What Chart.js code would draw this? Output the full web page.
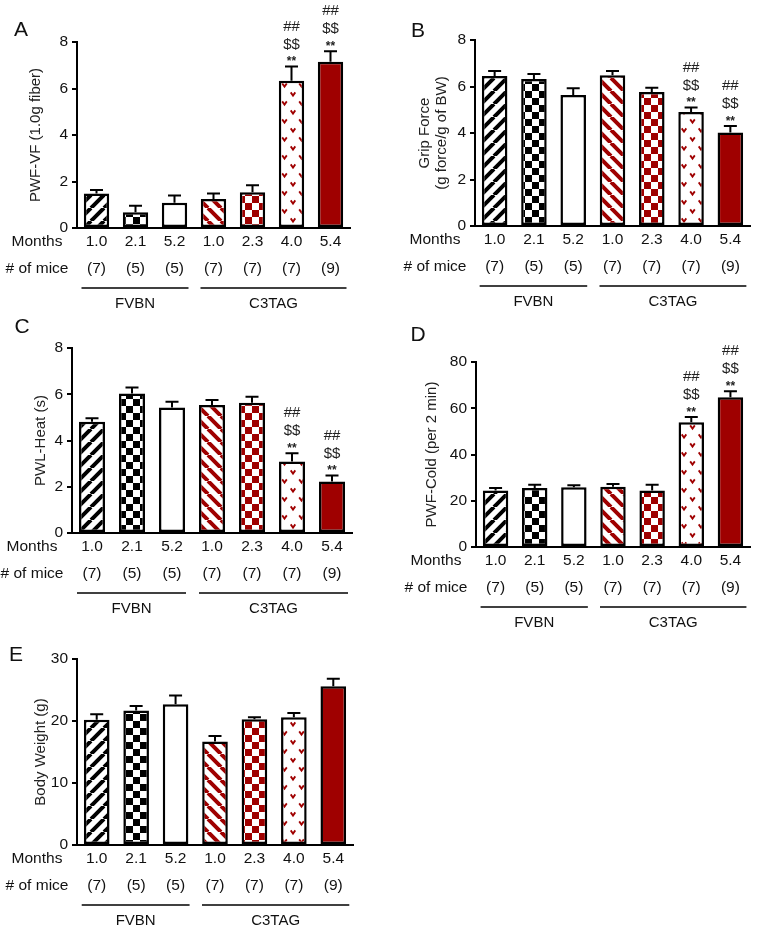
<!DOCTYPE html>
<html>
<head>
<meta charset="utf-8">
<script src="https://cdn.jsdelivr.net/npm/chart.js@4"></script>
<style>
  body { margin: 0; background: #fff; }
  #wrap { position: relative; width: 758px; height: 931px; }
  #wrap canvas { position: absolute; left: 0; top: 0; }
</style>
</head>
<body>
<div id="wrap"></div>
<script>
const groups = ['FVBN', 'C3TAG'];
const months = ['1.0', '2.1', '5.2', '1.0', '2.3', '4.0', '5.4'];
const mice = ['(7)', '(5)', '(5)', '(7)', '(7)', '(7)', '(9)'];
const sigMarks = ['##', '$$', '**'];

const pwfVf = [1.48, 0.68, 1.09, 1.25, 1.54, 6.33, 7.15];
const pwfVfErr = [0.15, 0.28, 0.31, 0.23, 0.30, 0.62, 0.45];
const gripForce = [6.45, 6.32, 5.63, 6.48, 5.76, 4.90, 4.02];
const gripForceErr = [0.22, 0.22, 0.29, 0.19, 0.19, 0.20, 0.28];
const pwlHeat = [4.81, 6.03, 5.43, 5.53, 5.63, 3.09, 2.23];
const pwlHeatErr = [0.15, 0.26, 0.25, 0.22, 0.26, 0.36, 0.26];
const pwfCold = [24.4, 25.5, 25.8, 26.1, 24.4, 53.9, 64.8];
const pwfColdErr = [1.1, 1.4, 0.9, 1.1, 2.5, 2.3, 2.6];
const bodyWeight = [20.2, 21.7, 22.7, 16.7, 20.3, 20.6, 25.6];
const bodyWeightErr = [0.9, 0.7, 1.4, 0.9, 0.3, 0.7, 1.2];

// which bars get the ## / $$ / ** stack
const sigPain = [false, false, false, false, false, true, true];
const sigNone = [false, false, false, false, false, false, false];

const W = 758, H = 931;
const FONT = '"Liberation Sans", Arial, Helvetica, sans-serif';
const RED = '#9f0000';

function tile(w, h, draw) {
  const c = document.createElement('canvas');
  c.width = w; c.height = h;
  const g = c.getContext('2d');
  g.fillStyle = '#fff';
  g.fillRect(0, 0, w, h);
  draw(g);
  return g.createPattern(c, 'repeat');
}

function stripes(color, up) {
  const s = 13;
  return tile(s, s, g => {
    g.strokeStyle = color;
    g.lineWidth = 4;
    g.beginPath();
    for (let k = -1; k <= 1; k++) {
      if (up) { g.moveTo(k * s, s); g.lineTo(k * s + s, 0); }
      else { g.moveTo(k * s, 0); g.lineTo(k * s + s, s); }
    }
    g.stroke();
  });
}

function checker(color) {
  return tile(14, 14, g => {
    g.fillStyle = color;
    g.fillRect(0, 0, 7, 7);
    g.fillRect(7, 7, 7, 7);
  });
}

function vees(color) {
  return tile(17, 18, g => {
    g.strokeStyle = color;
    g.lineWidth = 1.8;
    [[4, 4], [12.5, 13]].forEach(([x, y]) => {
      g.beginPath();
      g.moveTo(x - 2.3, y - 1.6);
      g.lineTo(x, y + 1.6);
      g.lineTo(x + 2.3, y - 1.6);
      g.stroke();
    });
  });
}

const fills = [
  stripes('#000', true),
  checker('#000'),
  '#fff',
  stripes(RED, false),
  checker(RED),
  vees(RED),
  RED
];

const panels = [
  { letter: 'A', vals: pwfVf, errs: pwfVfErr, sig: sigPain, max: 8, step: 2,
    title: 'PWF-VF (1.0g fiber)', area: [77, 42, 350, 228], titleX: 36, letterPos: [21, 30] },
  { letter: 'B', vals: gripForce, errs: gripForceErr, sig: sigPain, max: 8, step: 2,
    title: ['Grip Force', '(g force/g of BW)'], area: [475, 40, 750, 226], titleX: 425, letterPos: [418, 31] },
  { letter: 'C', vals: pwlHeat, errs: pwlHeatErr, sig: sigPain, max: 8, step: 2,
    title: 'PWL-Heat (s)', area: [72, 348, 352, 533], titleX: 41, letterPos: [22, 327] },
  { letter: 'D', vals: pwfCold, errs: pwfColdErr, sig: sigPain, max: 80, step: 20,
    title: 'PWF-Cold (per 2 min)', area: [476, 362, 750, 547], titleX: 432, letterPos: [418, 335] },
  { letter: 'E', vals: bodyWeight, errs: bodyWeightErr, sig: sigNone, max: 30, step: 10,
    title: 'Body Weight (g)', area: [77, 659, 353, 845], titleX: 41, letterPos: [16, 655] }
];

function makeDecor(p) {
  return {
    id: 'decor' + p.letter,
    afterDatasetsDraw(chart) {
      const ctx = chart.ctx;
      const xs = chart.scales.x, ys = chart.scales.y;
      const meta = chart.getDatasetMeta(0);
      const bottom = chart.chartArea.bottom;
      ctx.save();

      // error bars (upper only)
      ctx.strokeStyle = '#000';
      ctx.lineWidth = 2;
      meta.data.forEach((bar, i) => {
        const yErr = ys.getPixelForValue(p.vals[i] + p.errs[i]);
        ctx.beginPath();
        ctx.moveTo(bar.x, bar.y);
        ctx.lineTo(bar.x, yErr);
        ctx.moveTo(bar.x - 6.5, yErr);
        ctx.lineTo(bar.x + 6.5, yErr);
        ctx.stroke();

        if (p.sig[i]) {
          ctx.fillStyle = '#222';
          ctx.textAlign = 'center';
          ctx.textBaseline = 'middle';
          ctx.font = '15px ' + FONT;
          ctx.fillText(sigMarks[0], bar.x, yErr - 40);
          ctx.fillText(sigMarks[1], bar.x, yErr - 22);
          ctx.font = 'bold 12px ' + FONT;
          ctx.fillText(sigMarks[2], bar.x, yErr - 7 + 2.5);
        }
      });

      // panel letter
      ctx.fillStyle = '#111';
      ctx.textAlign = 'center';
      ctx.textBaseline = 'middle';
      ctx.font = '21px ' + FONT;
      ctx.fillText(p.letter, p.letterPos[0], p.letterPos[1]);

      // rows under the axis
      ctx.font = '15.5px ' + FONT;
      const labelX = chart.chartArea.left - 40;
      ctx.fillText('Months', labelX, bottom + 14);
      ctx.fillText('# of mice', labelX, bottom + 41);
      months.forEach((m, i) => {
        const x = xs.getPixelForValue(i);
        ctx.fillText(m, x, bottom + 14);
        ctx.fillText(mice[i], x, bottom + 41);
      });

      // group brackets
      const spans = [
        [xs.getPixelForValue(0) - 15, xs.getPixelForValue(2) + 14],
        [xs.getPixelForValue(3) - 13, xs.getPixelForValue(6) + 16]
      ];
      ctx.lineWidth = 1.5;
      ctx.font = '15px ' + FONT;
      spans.forEach(([a, b], g) => {
        ctx.beginPath();
        ctx.moveTo(a, bottom + 60);
        ctx.lineTo(b, bottom + 60);
        ctx.stroke();
        ctx.fillText(groups[g], (a + b) / 2, bottom + 76);
      });

      ctx.restore();
    }
  };
}

const wrap = document.getElementById('wrap');
const yW = 60;

panels.forEach(p => {
  const canvas = document.createElement('canvas');
  canvas.width = W;
  canvas.height = H;
  wrap.appendChild(canvas);

  const boxLeft = p.area[0] - yW;
  const lh = 17;

  new Chart(canvas, {
    type: 'bar',
    data: {
      labels: months,
      datasets: [{
        data: p.vals,
        backgroundColor: fills,
        borderColor: '#000',
        borderWidth: 2.5,
        borderSkipped: false,
        barPercentage: 0.65,
        categoryPercentage: 1
      }]
    },
    options: {
      responsive: false,
      animation: false,
      events: [],
      layout: {
        padding: { left: boxLeft, top: p.area[1], right: W - p.area[2], bottom: H - p.area[3] }
      },
      plugins: {
        legend: { display: false },
        tooltip: { enabled: false }
      },
      scales: {
        x: {
          grid: { display: false },
          ticks: { display: false },
          border: { color: '#000', width: 2 },
          afterFit: s => { s.height = 0; }
        },
        y: {
          min: 0,
          max: p.max,
          ticks: { stepSize: p.step, color: '#111', font: { family: FONT, size: 15.5 }, padding: 4 },
          grid: { drawOnChartArea: false, tickLength: 5, color: '#000', lineWidth: 2 },
          border: { color: '#000', width: 2 },
          title: {
            display: true,
            text: p.title,
            color: '#222',
            font: { family: FONT, size: 15, lineHeight: lh / 15 },
            padding: { top: p.titleX - lh / 2 - boxLeft, bottom: 0 }
          },
          afterFit: s => { s.width = yW; }
        }
      }
    },
    plugins: [makeDecor(p)]
  });
});
</script>
</body>
</html>
